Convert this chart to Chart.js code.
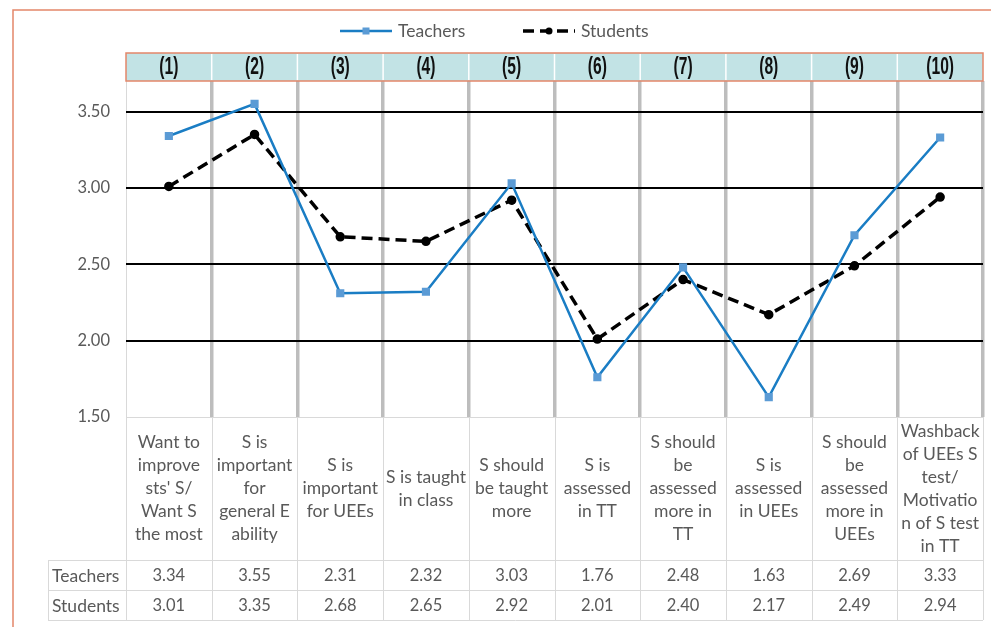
<!DOCTYPE html>
<html lang="en">
<head>
  <meta charset="UTF-8">
  <title>Teachers vs Students</title>
  <script src="https://cdn.jsdelivr.net/npm/chart.js"></script>
  <style>
    body { margin: 0; padding: 0; background: #fff; }
    canvas { display: block; }
  </style>
</head>
<body>
  <canvas id="chart" width="991" height="627"></canvas>

  <script>
    const columnNumbers = ["(1)", "(2)", "(3)", "(4)", "(5)", "(6)", "(7)", "(8)", "(9)", "(10)"];
    const categories = [
      ["Want to", "improve", "sts' S/", "Want S", "the most"],
      ["S is", "important", "for", "general E", "ability"],
      ["S is", "important", "for UEEs"],
      ["S is taught", "in class"],
      ["S should", "be taught", "more"],
      ["S is", "assessed", "in TT"],
      ["S should", "be", "assessed", "more in", "TT"],
      ["S is", "assessed", "in UEEs"],
      ["S should", "be", "assessed", "more in", "UEEs"],
      ["Washback", "of UEEs S", "test/", "Motivatio", "n of S test", "in TT"]
    ];
    const teachers = [3.34, 3.55, 2.31, 2.32, 3.03, 1.76, 2.48, 1.63, 2.69, 3.33];
    const students = [3.01, 3.35, 2.68, 2.65, 2.92, 2.01, 2.40, 2.17, 2.49, 2.94];
    const yTicks = [1.5, 2.0, 2.5, 3.0, 3.5];

    const FONT = "Lato, 'Open Sans', sans-serif";
    const GREY_TEXT = "#595959";
    const CELL_LINE = "#d9d9d9";

    // header strip, category labels, data table, legend, outer frame
    const extras = {
      id: 'extras',
      afterDraw(chart) {
        const ctx = chart.ctx;
        const x = chart.scales.x;
        const area = chart.chartArea;
        const colW = (area.right - area.left) / categories.length;
        const rowTop = area.bottom;
        const labelBottom = 560;
        const rowH = 30;
        const tableLeft = 48;

        ctx.save();

        // outer frame
        ctx.strokeStyle = "#e3876a";
        ctx.lineWidth = 1.5;
        ctx.strokeRect(13, 10, 1100, 700);

        // header strip
        const hTop = 53, hBot = area.top;
        ctx.fillStyle = "#c2e3e5";
        ctx.fillRect(area.left, hTop, area.right - area.left, hBot - hTop);
        ctx.strokeStyle = "#ffffff";
        ctx.lineWidth = 1.5;
        for (let i = 1; i < categories.length; i++) {
          const bx = area.left + i * colW;
          ctx.beginPath(); ctx.moveTo(bx, hTop + 1); ctx.lineTo(bx, hBot - 1); ctx.stroke();
        }
        ctx.strokeStyle = "#e3876a";
        ctx.lineWidth = 1.5;
        ctx.strokeRect(area.left, hTop, area.right - area.left, hBot - hTop);
        ctx.fillStyle = "#111";
        ctx.font = "bold 23px 'Liberation Sans', sans-serif";
        ctx.textAlign = "center";
        ctx.textBaseline = "middle";
        columnNumbers.forEach((t, i) => {
          // narrow look, like Arial Narrow
          ctx.save();
          ctx.translate(x.getPixelForValue(i), (hTop + hBot) / 2 + 1);
          ctx.scale(0.68, 1);
          ctx.fillText(t, 0, 0);
          ctx.restore();
        });

        // table lines
        ctx.strokeStyle = CELL_LINE;
        ctx.lineWidth = 1;
        const tBot = labelBottom + 2 * rowH;
        for (let i = 0; i <= categories.length; i++) {
          const bx = Math.round(area.left + i * colW) + 0.5;
          ctx.beginPath(); ctx.moveTo(bx, rowTop); ctx.lineTo(bx, tBot); ctx.stroke();
        }
        [labelBottom, labelBottom + rowH, tBot].forEach(yy => {
          ctx.beginPath(); ctx.moveTo(tableLeft, yy + 0.5); ctx.lineTo(area.right, yy + 0.5); ctx.stroke();
        });
        ctx.beginPath(); ctx.moveTo(tableLeft + 0.5, labelBottom); ctx.lineTo(tableLeft + 0.5, tBot); ctx.stroke();

        // category labels
        ctx.fillStyle = GREY_TEXT;
        ctx.font = "17.5px " + FONT;
        const lh = 23;
        const midY = (rowTop + labelBottom) / 2;
        categories.forEach((lines, i) => {
          const cx = x.getPixelForValue(i);
          const y0 = midY - (lines.length - 1) * lh / 2;
          lines.forEach((ln, k) => ctx.fillText(ln, cx, y0 + k * lh));
        });

        // data rows
        const rows = [["Teachers", teachers], ["Students", students]];
        rows.forEach(([name, vals], r) => {
          const cy = labelBottom + r * rowH + rowH / 2 + 1;
          ctx.font = "17.5px " + FONT;
          ctx.textAlign = "left";
          ctx.fillText(name, tableLeft + 4, cy);
          ctx.font = "16.5px " + FONT;
          ctx.textAlign = "center";
          vals.forEach((v, i) => ctx.fillText(v.toFixed(2), x.getPixelForValue(i), cy));
        });

        // legend
        const legendY = 31;
        const legendX = [340, 523];
        chart.data.datasets.forEach((ds, i) => {
          const lx = legendX[i];
          ctx.strokeStyle = ds.borderColor;
          ctx.lineWidth = ds.borderWidth;
          ctx.setLineDash(ds.borderDash || []);
          ctx.beginPath(); ctx.moveTo(lx, legendY); ctx.lineTo(lx + 52, legendY); ctx.stroke();
          ctx.setLineDash([]);
          ctx.fillStyle = ds.pointBackgroundColor;
          if (ds.pointStyle === 'rect') {
            ctx.fillRect(lx + 26 - 3.5, legendY - 3.5, 7, 7);
          } else {
            ctx.beginPath(); ctx.arc(lx + 26, legendY, 3.5, 0, Math.PI * 2); ctx.fill();
          }
          ctx.fillStyle = GREY_TEXT;
          ctx.font = "17.5px " + FONT;
          ctx.textAlign = "left";
          ctx.fillText(ds.label, lx + 58, legendY);
        });

        ctx.restore();
      }
    };

    new Chart(document.getElementById('chart'), {
      type: 'line',
      data: {
        labels: columnNumbers,
        datasets: [
          {
            label: 'Teachers',
            data: teachers,
            borderColor: '#1a7dc4',
            borderWidth: 2.5,
            pointStyle: 'rect',
            pointRadius: 4,
            pointBackgroundColor: '#5b9bd5',
            pointBorderColor: '#5b9bd5',
            tension: 0
          },
          {
            label: 'Students',
            data: students,
            borderColor: '#000000',
            borderWidth: 3.5,
            borderDash: [11, 6],
            pointStyle: 'circle',
            pointRadius: 3,
            pointBackgroundColor: '#000000',
            pointBorderColor: '#000000',
            tension: 0
          }
        ]
      },
      options: {
        responsive: false,
        animation: false,
        layout: { padding: { top: 81, bottom: 210, right: 8, left: 0 } },
        plugins: {
          legend: { display: false },
          tooltip: { enabled: false }
        },
        scales: {
          x: {
            offset: true,
            ticks: { display: false },
            border: { display: false },
            grid: {
              offset: true,
              drawTicks: false,
              color: c => c.index === 0 ? CELL_LINE : '#bdbdbd',
              lineWidth: c => c.index === 0 ? 1 : 3.5
            },
            afterFit: s => { s.height = 0; }
          },
          y: {
            min: 1.5,
            max: 3.7,
            afterBuildTicks: s => { s.ticks = yTicks.map(v => ({ value: v })); },
            afterFit: s => { s.width = 126; },
            border: { display: false },
            grid: {
              drawTicks: false,
              color: c => c.tick && c.tick.value === 1.5 ? CELL_LINE : '#000',
              lineWidth: c => c.tick && c.tick.value === 1.5 ? 1 : 2
            },
            ticks: {
              padding: 16,
              color: GREY_TEXT,
              font: { family: FONT, size: 16.5 },
              callback: v => v.toFixed(2)
            }
          }
        }
      },
      plugins: [extras]
    });
  </script>
</body>
</html>
